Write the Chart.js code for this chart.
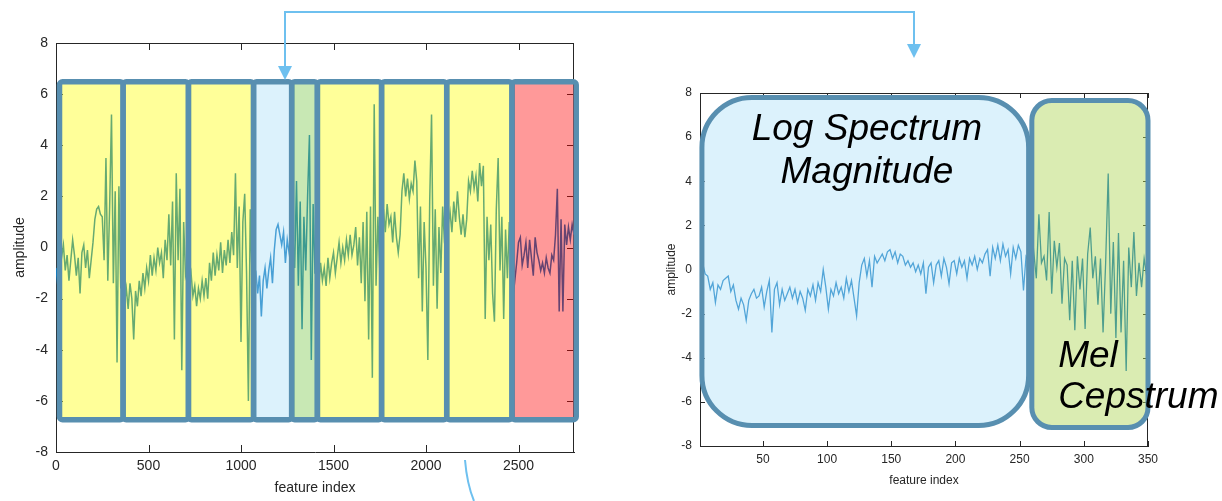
<!DOCTYPE html>
<html>
<head>
<meta charset="utf-8">
<title>feature index / amplitude</title>
<script src="https://cdn.jsdelivr.net/npm/chart.js@4/dist/chart.umd.min.js"></script>
<style>
  html, body { margin: 0; padding: 0; background: #fff; }
  #wrap { position: relative; width: 1222px; height: 501px; overflow: hidden; }
  #wrap canvas { position: absolute; top: 0; }
  #leftChart { left: 0; }
  #rightChart { left: 620px; }
  #arrows { left: 0; pointer-events: none; }
</style>
</head>
<body>
<div id="wrap">
  <canvas id="leftChart" width="600" height="501"></canvas>
  <canvas id="rightChart" width="602" height="501"></canvas>
  <canvas id="arrows" width="1222" height="501"></canvas>
</div>
<script>
// ---------- left panel: whole feature vector, one block per feature group ----------
const leftStep = 10;
const leftBlockStart = [0, 360, 710, 1060, 1280, 1410, 1760, 2110, 2470];

const block1 = [-0.8, -1.5, 0.2, -0.4, 0.1, -0.9, -0.3, -1.3, -0.5, 0.3, -0.3, -1.1, -0.4, -1.8, -0.2, 0.1, -0.8, -0.1,
                -1.2, -0.5, 0.2, 1.1, 1.5, 1.6, 1.3, 1.2, -0.5, 3.5, -1.3, 1.6, 5.2, -1.4, 2.2, -4.5, 2.4, -1.6];
const block2 = [-1.0, -2.2, -1.6, -2.4, -1.4, -2.0, -3.6, -1.7, -2.3, -1.3, -1.9, -1.0, -1.6, -0.8, -1.3, -0.3, -1.1, -0.4,
                -0.9, 0.0, -0.6, -0.2, -1.2, 0.3, -0.5, 1.3, -0.7, 1.8, -3.6, 2.9, -0.5, 2.3, -4.8, 1.0, -1.1];
const block3 = [-0.8, -1.4, -1.0, -1.9, -1.5, -2.3, -1.6, -2.0, -1.3, -1.9, -1.2, -2.0, -0.6, -1.3, -0.2, -1.1, -0.3, -0.9,
                0.2, -1.0, -0.1, -0.7, 0.3, -0.6, 0.6, -0.3, 2.9, -0.8, 1.6, -3.7, 1.0, 2.1, -1.0, -6.0, 1.5];
const block4 = [-1.2, -1.5, -0.9, -1.8, -1.1, -2.7, -1.3, -0.8, -1.6, -0.9, -0.4, -1.4, -0.1, 0.7, 0.9, 0.5, 0.1, 0.6,
                -0.6, 0.3, -0.2, 0.4];
const block5 = [0.5, -0.8, 2.6, -1.5, 1.8, -3.2, 1.2, -0.9, 2.0, 4.4, -4.4, 1.7, -1.0];
const block6 = [-1.0, -1.6, -0.6, -1.3, -0.8, -1.5, -0.4, -1.2, -0.6, -0.2, -1.0, -0.4, 0.2, -0.6, 0.0, -0.5, 0.3, -0.3,
                0.5, -0.3, 0.1, 0.8, -0.7, 0.4, -1.4, 1.0, -2.1, 1.4, -3.6, 1.6, -5.1, 5.6, -1.5, 1.2, -0.9];
const block7 = [0.3, 1.5, 0.6, 1.7, 0.9, 1.2, 0.2, 1.4, 0.4, -0.2, 0.5, 2.2, 2.9, 2.0, 2.7, 1.9, 2.5, 2.2,
                3.4, 2.6, -1.2, 1.6, -2.5, 1.0, -0.8, -4.4, 1.8, 5.2, -1.5, 1.5, -2.4, 0.8, -1.0, 1.6, 0.2];
const block8 = [-0.2, 0.9, 1.4, 0.6, 1.8, 1.0, 2.2, 1.2, 0.5, 1.3, 0.4, 1.1, 2.6, 2.2, 3.0, 2.3, 2.8, 1.8,
                3.3, 2.4, 3.2, -2.8, 1.2, -0.5, 0.9, -1.8, -2.9, 1.5, 3.5, -0.9, 1.2, -2.8, 0.7, -1.2, 1.0, -0.4];
const block9 = [-2.0, -1.3, -0.6, 0.2, 0.4, -0.7, -0.3, 0.2, -0.8, 0.3, -0.4, -1.1, 0.4, -0.2, -0.5, -0.9, -0.6, -1.0,
                -0.4, -0.8, -1.0, -0.3, -0.5, 0.5, 2.3, -2.5, 1.1, -2.5, 0.9, 0.1, 0.8, 0.3, 0.9, 0.5];

const leftXTicks = [0, 500, 1000, 1500, 2000, 2500];
const yTicks = [-8, -6, -4, -2, 0, 2, 4, 6, 8];

// block outlines (x edges in feature index, top / bottom in amplitude)
const leftEdges = [19, 363, 716, 1068, 1274, 1413, 1760, 2112, 2465, 2812];
const leftBoxTop = 6.48;
const leftBoxBottom = -6.74;
const leftFills = ['rgba(255,255,0,0.4)', 'rgba(255,255,0,0.4)', 'rgba(255,255,0,0.4)', 'rgba(172,225,247,0.42)',
                   'rgba(133,204,89,0.45)', 'rgba(255,255,0,0.4)', 'rgba(255,255,0,0.4)', 'rgba(255,255,0,0.4)',
                   'rgba(255,0,0,0.4)'];

// ---------- right panel: one frame, log spectrum + mel cepstrum ----------
const rightStep = 2;      // x = 1, 3, 5, ...
const logSpectrum = [
  1.6, 0.3, -0.2, -0.3, -0.9, -0.6, -1.5, -0.7, -0.9, -0.5,
  -0.4, -0.3, -1.0, -0.7, -1.4, -1.8, -1.3, -1.6, -2.3, -1.4,
  -1.1, -0.9, -1.3, -1.2, -0.8, -1.7, -1.0, -0.5, -2.85, -0.9,
  -0.6, -1.6, -0.9, -1.4, -1.1, -0.8, -1.3, -0.9, -1.5, -1.0,
  -1.3, -1.85, -0.9, -1.2, -0.7, -1.4, -0.6, -1.0, 0.0, -0.8,
  -1.8, -0.9, -1.2, -0.6, -1.1, -0.8, -1.3, -0.4, -1.0, -0.5,
  -1.3, -2.1, -0.6, 0.2, 0.5, -0.3, 0.4, -0.8, 0.6, 0.3,
  0.5, 0.7, 0.4, 0.8, 0.9, 0.5, 0.8, 0.3, 0.7, 0.6,
  0.2, 0.4, 0.1, 0.3, -0.1, 0.2, -0.2, 0.3, -1.1, 0.1,
  0.3, -0.6, 0.2, 0.4, -0.3, 0.5, 0.1, -0.65, 0.3, 0.4,
  -0.2, 0.5, 0.1, 0.4, -0.4, 0.5, 0.2, 0.6, 0.0, 0.5,
  0.3, 0.7, 0.9, -0.3, 1.0, 0.5, 1.1, 0.4, 1.15, 0.6,
  0.9, -0.2, 1.0, 0.5, 1.1, 0.8, -0.95, 0.6, 0.4, -0.1
];
const melCepstrum = [
  0.8, -0.4, 2.5, 0.3, 0.6, -0.5, 2.6, -1.1, 1.3, 0.1,
  1.2, -1.55, 0.5, 0.2, -2.3, 0.4, -2.75, 0.6, -0.9, 0.5,
  -2.7, 0.7, 1.9, -0.4, 0.6, -1.6, 0.5, -2.85, 0.3, 4.35,
  -2.0, 1.25, -3.1, 1.65, -2.85, 0.4, -4.6, 1.0, -0.8, 1.7,
  -1.2, 0.3, -0.8, 0.5, -0.3
];
const rightXTicks = [50, 100, 150, 200, 250, 300, 350];

// rounded outlines on the right panel
const rightBoxX = [[2.5, 257], [259.5, 350]];
const rightBoxY = [[7.8, -7.07], [7.66, -7.16]];
const rightRadius = [50, 20];
const rightFills = ['rgba(178,226,248,0.46)', 'rgba(173,213,84,0.45)'];

const FONT = '"Liberation Sans", Arial, Helvetica, sans-serif';
const AXIS = '#262626';
const LINE = '#0072bd';
const EDGE = '#588fb0';

// ---------- build point lists ----------
const leftBlocks = [block1, block2, block3, block4, block5, block6, block7, block8, block9];
const leftPoints = [];
leftBlocks.forEach((blk, b) => {
  blk.forEach((v, i) => leftPoints.push({ x: leftBlockStart[b] + i * leftStep, y: v }));
});
const rightPoints = logSpectrum.concat(melCepstrum).map((v, i) => ({ x: 1 + i * rightStep, y: v }));

// ---------- plugins ----------
// MATLAB-style box: top/right frame + inward ticks (drawn under the data)
const framePlugin = {
  id: 'frame',
  beforeDatasetsDraw(chart, args, opts) {
    const { ctx, chartArea: a, scales: { x, y } } = chart;
    const t = opts.tick;
    ctx.save();
    ctx.strokeStyle = AXIS;
    ctx.lineWidth = 1;
    ctx.beginPath();
    ctx.moveTo(a.left, a.top + 0.5); ctx.lineTo(a.right, a.top + 0.5);
    ctx.moveTo(a.right - 0.5, a.top); ctx.lineTo(a.right - 0.5, a.bottom);
    x.ticks.forEach(tk => {
      const px = Math.round(x.getPixelForValue(tk.value)) + 0.5;
      ctx.moveTo(px, a.bottom); ctx.lineTo(px, a.bottom - t);
      ctx.moveTo(px, a.top); ctx.lineTo(px, a.top + t);
    });
    y.ticks.forEach(tk => {
      const py = Math.round(y.getPixelForValue(tk.value)) + 0.5;
      ctx.moveTo(a.left, py); ctx.lineTo(a.left + t, py);
      ctx.moveTo(a.right, py); ctx.lineTo(a.right - t, py);
    });
    ctx.stroke();
    ctx.restore();
  }
};

// translucent feature blocks laid over the curve, plus their captions
const blockPlugin = {
  id: 'blocks',
  afterDatasetsDraw(chart, args, opts) {
    const { ctx, scales: { x, y } } = chart;
    ctx.save();
    opts.boxes.forEach(bx => {
      const x0 = x.getPixelForValue(bx.x0), x1 = x.getPixelForValue(bx.x1);
      const y0 = y.getPixelForValue(bx.top), y1 = y.getPixelForValue(bx.bottom);
      ctx.beginPath();
      ctx.roundRect(x0, y0, x1 - x0, y1 - y0, bx.r);
      ctx.fillStyle = bx.fill;
      ctx.fill();
      ctx.lineWidth = opts.lineWidth;
      ctx.strokeStyle = EDGE;
      ctx.stroke();
    });
    ctx.fillStyle = '#000';
    ctx.textBaseline = 'alphabetic';
    (opts.labels || []).forEach(lb => {
      ctx.font = 'italic 37px ' + FONT;
      ctx.textAlign = lb.align;
      ctx.fillText(lb.text, x.getPixelForValue(lb.x), y.getPixelForValue(lb.y));
    });
    ctx.restore();
  }
};

function axes(xTicks, xMin, xMax, fontSize, xHeight, yWidth, tickPad) {
  const tickFont = { family: FONT, size: fontSize };
  return {
    x: {
      type: 'linear', min: xMin, max: xMax,
      afterBuildTicks: s => { s.ticks = xTicks.map(v => ({ value: v })); },
      afterFit: s => { s.height = xHeight; },
      grid: { display: false, drawTicks: false },
      border: { display: true, color: AXIS, width: 1 },
      ticks: { font: tickFont, color: AXIS, padding: tickPad, maxRotation: 0, autoSkip: false, callback: v => String(v) },
      title: { display: true, text: 'feature index', font: tickFont, color: AXIS }
    },
    y: {
      type: 'linear', min: -8, max: 8,
      afterBuildTicks: s => { s.ticks = yTicks.map(v => ({ value: v })); },
      afterFit: s => { s.width = yWidth; },
      grid: { display: false, drawTicks: false },
      border: { display: true, color: AXIS, width: 1 },
      ticks: { font: tickFont, color: AXIS, padding: tickPad + 2, autoSkip: false, callback: v => String(v) },
      title: { display: true, text: 'amplitude', font: tickFont, color: AXIS }
    }
  };
}

// ---------- left chart ----------
const leftBoxes = leftFills.map((f, i) => ({
  x0: leftEdges[i], x1: leftEdges[i + 1], top: leftBoxTop, bottom: leftBoxBottom, r: 3, fill: f
}));

new Chart(document.getElementById('leftChart').getContext('2d'), {
  type: 'line',
  data: {
    datasets: [{
      data: leftPoints,
      borderColor: LINE,
      borderWidth: 1.5,
      pointRadius: 0,
      tension: 0
    }]
  },
  options: {
    responsive: false,
    animation: false,
    devicePixelRatio: 1,
    layout: { padding: { left: 8, right: 26, top: 43, bottom: 0 } },
    scales: axes(leftXTicks, 0, 2800, 14, 49, 48, 6),
    plugins: {
      legend: { display: false },
      tooltip: { enabled: false },
      frame: { tick: 7 },
      blocks: { boxes: leftBoxes, lineWidth: 5.5 }
    }
  },
  plugins: [framePlugin, blockPlugin]
});

// ---------- right chart ----------
const rightBoxes = rightFills.map((f, i) => ({
  x0: rightBoxX[i][0], x1: rightBoxX[i][1], top: rightBoxY[i][0], bottom: rightBoxY[i][1], r: rightRadius[i], fill: f
}));

new Chart(document.getElementById('rightChart').getContext('2d'), {
  type: 'line',
  data: {
    datasets: [{
      data: rightPoints,
      borderColor: LINE,
      borderWidth: 1.3,
      pointRadius: 0,
      tension: 0
    }]
  },
  options: {
    responsive: false,
    animation: false,
    devicePixelRatio: 1,
    layout: { padding: { left: 40, right: 74, top: 93, bottom: 9 } },
    scales: axes(rightXTicks, 1, 350, 12, 46, 40, 6),
    plugins: {
      legend: { display: false },
      tooltip: { enabled: false },
      frame: { tick: 5 },
      blocks: {
        boxes: rightBoxes,
        lineWidth: 5,
        labels: [
          { text: 'Log Spectrum', x: 131, y: 5.85, align: 'center' },
          { text: 'Magnitude', x: 131, y: 3.9, align: 'center' },
          { text: 'Mel', x: 280, y: -4.44, align: 'left' },
          { text: 'Cepstrum', x: 280, y: -6.3, align: 'left' }
        ]
      }
    }
  },
  plugins: [framePlugin, blockPlugin]
});

// ---------- connector arrows ----------
const ac = document.getElementById('arrows').getContext('2d');
ac.strokeStyle = '#6ec0ef';
ac.fillStyle = '#6ec0ef';
ac.lineWidth = 2;
ac.beginPath();
ac.moveTo(285, 68); ac.lineTo(285, 12); ac.lineTo(914, 12); ac.lineTo(914, 46);
ac.stroke();
function head(x, tip) {
  ac.beginPath();
  ac.moveTo(x - 7, tip - 14); ac.lineTo(x + 7, tip - 14); ac.lineTo(x, tip);
  ac.closePath();
  ac.fill();
}
head(285, 80);
head(914, 58);
ac.beginPath();
ac.moveTo(465, 460);
ac.quadraticCurveTo(467, 484, 474, 501);
ac.stroke();
</script>
</body>
</html>
